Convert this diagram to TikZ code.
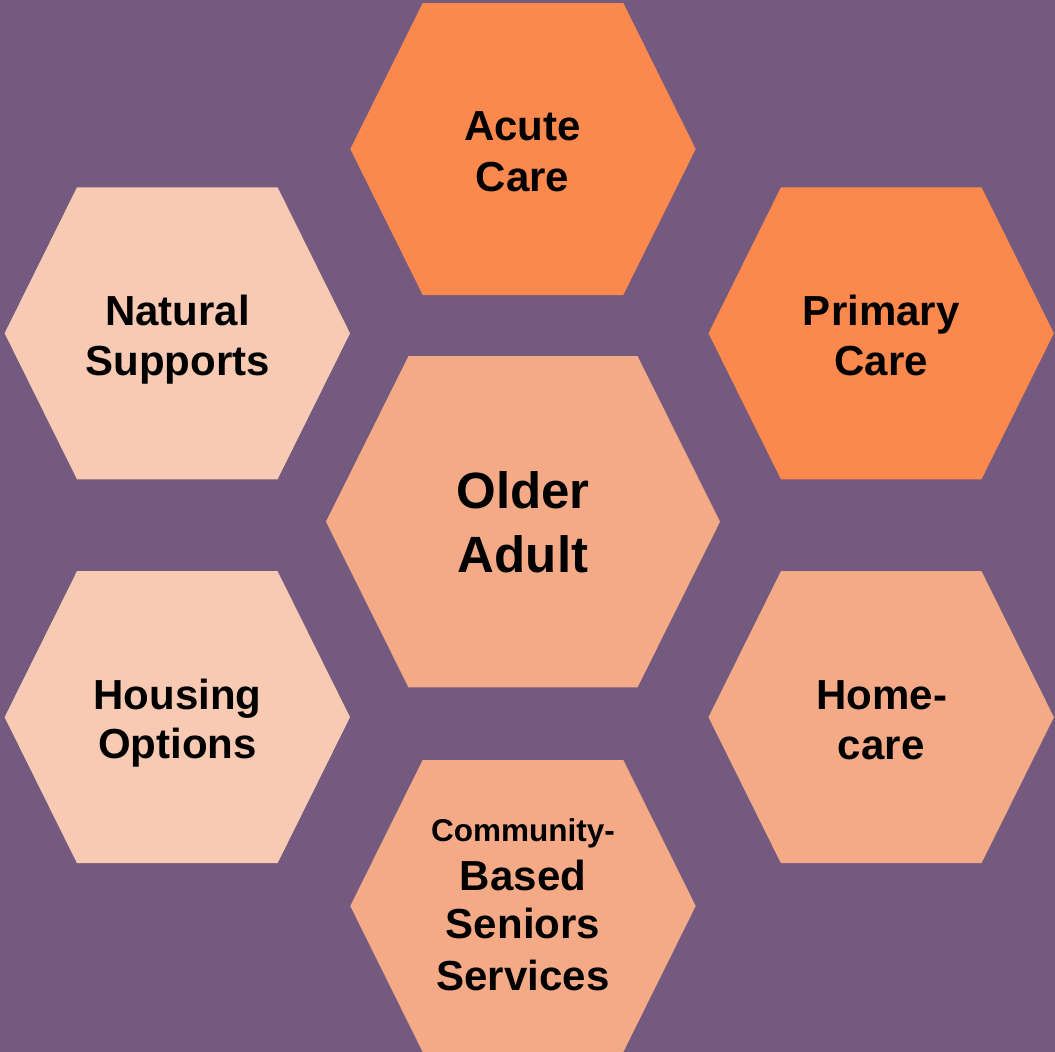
\documentclass[tikz,border=0pt]{standalone}
\usepackage{fontspec}
\setmainfont{Liberation Sans}
\definecolor{bgpurple}{RGB}{115,90,126}
\definecolor{hexorange}{RGB}{251,136,76}
\definecolor{hexmid}{RGB}{244,170,135}
\definecolor{hexpale}{RGB}{248,202,179}
\newcommand{\drawhexagon}[6]{%
  \fill[#6] (#1-#3,#2) -- (#1-#4,#2-#5) -- (#1+#4,#2-#5) -- (#1+#3,#2)
    -- (#1+#4,#2+#5) -- (#1-#4,#2+#5) -- cycle;}
\tikzset{
  lbl/.style={font=\fontsize{42}{50}\selectfont\bfseries, inner sep=0pt, anchor=base, text=black},
  lblbig/.style={font=\fontsize{51}{63}\selectfont\bfseries, inner sep=0pt, anchor=base, text=black},
  lblsmall/.style={font=\fontsize{31.5}{38}\selectfont\bfseries, inner sep=0pt, anchor=base, text=black}
}
\begin{document}
\begin{tikzpicture}[x=1pt,y=-1pt]
\useasboundingbox (0,0) rectangle (1055,1052);
\fill[bgpurple] (0,0) rectangle (1055,1052);
% hexagons
\drawhexagon{523}{149}{172.7}{100.3}{146}{hexorange}
\drawhexagon{881.2}{333.3}{172.7}{100.3}{146}{hexorange}
\drawhexagon{177.3}{333.3}{172.7}{100.3}{146}{hexpale}
\drawhexagon{523}{521.7}{197}{114.5}{165.7}{hexmid}
\drawhexagon{177.3}{717.2}{172.7}{100.3}{146}{hexpale}
\drawhexagon{881.2}{717.2}{172.7}{100.3}{146}{hexmid}
\drawhexagon{523}{906}{172.7}{100.3}{146}{hexmid}
% labels
\node[lbl] (acuteA) at (522.5,140) {Acute};
\node[lbl] (acuteB) at (522.5,191.7) {Care};
\node[lbl] (natA) at (177.5,325.7) {Natural};
\node[lbl] (natB) at (177.5,375) {Supports};
\node[lbl] (primA) at (881.2,325.3) {Primary};
\node[lbl] (primB) at (881.2,375) {Care};
\node[lblbig] (oldA) at (523,508.3) {Older};
\node[lblbig] (oldB) at (523,572.7) {Adult};
\node[lbl] (housA) at (177.5,709.3) {Housing};
\node[lbl] (housB) at (177.5,758.3) {Options};
\node[lbl] (homeA) at (882,709.3) {Home-};
\node[lbl] (homeB) at (881.2,759.3) {care};
\node[lblsmall] (comA) at (523,841.7) {Community-};
\node[lbl] (comB) at (523,890) {Based};
\node[lbl] (comC) at (523,938.3) {Seniors};
\node[lbl] (comD) at (523,990) {Services};
\end{tikzpicture}
\end{document}
